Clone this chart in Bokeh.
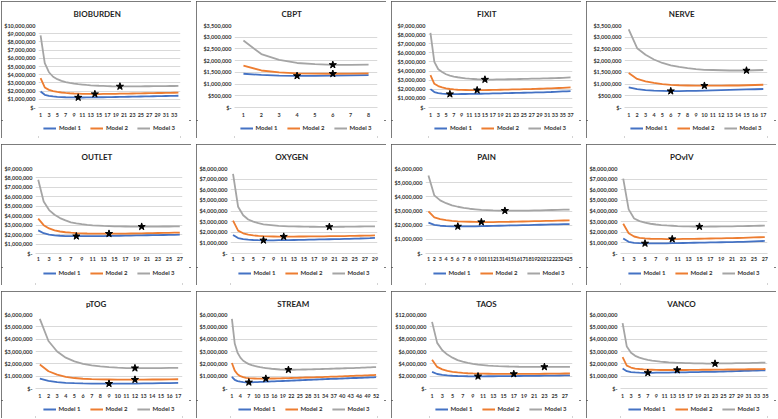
from bokeh.plotting import figure
from bokeh.models import FixedTicker, Legend, LegendItem, Title, Range1d
from bokeh.layouts import column, row
from bokeh.embed import file_html
from bokeh.resources import INLINE

# Total cost per series, in $ millions, by number of units (x = 1..N)
BIOBURDEN_M1 = [1.95, 1.55, 1.42, 1.35, 1.30, 1.27, 1.25, 1.24, 1.23, 1.22, 1.22, 1.23, 1.23, 1.24, 1.25, 1.25, 1.26,
                1.27, 1.28, 1.29, 1.30, 1.31, 1.32, 1.33, 1.34, 1.35, 1.36, 1.37, 1.38, 1.39, 1.40, 1.41, 1.42, 1.43]
BIOBURDEN_M2 = [3.57, 2.45, 2.15, 2.00, 1.90, 1.83, 1.78, 1.74, 1.71, 1.69, 1.67, 1.66, 1.65, 1.64, 1.64, 1.65, 1.65,
                1.66, 1.67, 1.68, 1.69, 1.70, 1.71, 1.72, 1.73, 1.74, 1.75, 1.76, 1.77, 1.77, 1.78, 1.79, 1.80, 1.81]
BIOBURDEN_M3 = [8.80, 5.40, 4.30, 3.75, 3.45, 3.25, 3.10, 3.00, 2.92, 2.85, 2.80, 2.75, 2.71, 2.68, 2.65, 2.63, 2.61,
                2.59, 2.58, 2.57, 2.57, 2.57, 2.57, 2.58, 2.58, 2.59, 2.59, 2.60, 2.60, 2.61, 2.61, 2.62, 2.62, 2.63]
BIOBURDEN_STARS = [10, 14, 20]

CBPT_M1 = [1.44, 1.39, 1.36, 1.35, 1.35, 1.36, 1.37, 1.38]
CBPT_M2 = [1.79, 1.58, 1.50, 1.46, 1.45, 1.44, 1.45, 1.46]
CBPT_M3 = [2.86, 2.28, 2.03, 1.90, 1.85, 1.82, 1.82, 1.83]
CBPT_STARS = [4, 6, 6]

FIXIT_M1 = [2.02, 1.70, 1.58, 1.52, 1.49, 1.47, 1.47, 1.47, 1.48, 1.48, 1.49, 1.49, 1.50, 1.51, 1.52, 1.53, 1.54, 1.55,
            1.56, 1.57, 1.58, 1.59, 1.60, 1.61, 1.62, 1.63, 1.64, 1.65, 1.66, 1.67, 1.69, 1.70, 1.72, 1.74, 1.76, 1.78, 1.80]
FIXIT_M2 = [3.55, 2.60, 2.35, 2.20, 2.10, 2.03, 1.98, 1.95, 1.93, 1.92, 1.91, 1.90, 1.90, 1.90, 1.91, 1.92, 1.93, 1.94,
            1.95, 1.96, 1.97, 1.98, 1.99, 2.00, 2.01, 2.02, 2.03, 2.05, 2.06, 2.07, 2.09, 2.10, 2.12, 2.14, 2.16, 2.18, 2.20]
FIXIT_M3 = [8.20, 5.00, 4.20, 3.90, 3.65, 3.50, 3.40, 3.32, 3.26, 3.20, 3.16, 3.13, 3.10, 3.08, 3.07, 3.07, 3.07, 3.08,
            3.08, 3.09, 3.10, 3.11, 3.12, 3.13, 3.14, 3.15, 3.16, 3.17, 3.18, 3.19, 3.20, 3.21, 3.22, 3.24, 3.26, 3.28, 3.30]
FIXIT_STARS = [6, 13, 15]

NERVE_M1 = [0.86, 0.78, 0.74, 0.72, 0.71, 0.70, 0.70, 0.71, 0.71, 0.72, 0.73, 0.74, 0.75, 0.76, 0.77, 0.78, 0.79]
NERVE_M2 = [1.47, 1.22, 1.12, 1.05, 1.00, 0.97, 0.95, 0.94, 0.93, 0.93, 0.93, 0.93, 0.94, 0.94, 0.95, 0.96, 0.97]
NERVE_M3 = [3.33, 2.53, 2.25, 2.05, 1.90, 1.80, 1.73, 1.68, 1.64, 1.61, 1.60, 1.59, 1.58, 1.58, 1.58, 1.59, 1.60]
NERVE_STARS = [6, 10, 15]

OUTLET_M1 = [2.45, 2.15, 2.00, 1.93, 1.88, 1.85, 1.84, 1.83, 1.83, 1.84, 1.84, 1.85, 1.85, 1.86, 1.87, 1.88, 1.89,
             1.90, 1.91, 1.92, 1.93, 1.94, 1.95, 1.96, 1.97, 1.98, 1.99]
OUTLET_M2 = [3.70, 3.00, 2.65, 2.45, 2.33, 2.25, 2.20, 2.16, 2.14, 2.12, 2.11, 2.10, 2.10, 2.10, 2.10, 2.11, 2.11,
             2.12, 2.13, 2.14, 2.15, 2.16, 2.17, 2.18, 2.19, 2.20, 2.21]
OUTLET_M3 = [7.80, 5.50, 4.60, 4.10, 3.75, 3.50, 3.30, 3.18, 3.10, 3.03, 2.98, 2.95, 2.92, 2.90, 2.88, 2.87, 2.86,
             2.85, 2.85, 2.84, 2.84, 2.85, 2.85, 2.86, 2.86, 2.87, 2.88]
OUTLET_STARS = [8, 14, 20]

OXYGEN_M1 = [1.75, 1.45, 1.35, 1.30, 1.27, 1.25, 1.24, 1.24, 1.24, 1.25, 1.25, 1.26, 1.27, 1.28, 1.29, 1.30, 1.31,
             1.32, 1.33, 1.34, 1.35, 1.36, 1.37, 1.38, 1.40, 1.41, 1.43, 1.45, 1.48]
OXYGEN_M2 = [3.10, 2.15, 1.90, 1.77, 1.70, 1.66, 1.63, 1.61, 1.60, 1.59, 1.59, 1.59, 1.59, 1.60, 1.60, 1.61, 1.61,
             1.62, 1.62, 1.63, 1.63, 1.64, 1.64, 1.65, 1.66, 1.67, 1.68, 1.69, 1.70]
OXYGEN_M3 = [7.50, 4.40, 3.60, 3.20, 3.00, 2.85, 2.75, 2.70, 2.65, 2.60, 2.58, 2.56, 2.55, 2.54, 2.53, 2.52, 2.52,
             2.51, 2.51, 2.51, 2.51, 2.52, 2.52, 2.53, 2.53, 2.54, 2.55, 2.55, 2.56]
OXYGEN_STARS = [7, 11, 20]

PAIN_M1 = [2.18, 2.02, 1.96, 1.93, 1.92, 1.91, 1.91, 1.92, 1.92, 1.93, 1.94, 1.95, 1.96, 1.97, 1.98, 1.99, 2.00,
           2.01, 2.02, 2.03, 2.04, 2.05, 2.06, 2.07, 2.08]
PAIN_M2 = [2.98, 2.55, 2.42, 2.35, 2.30, 2.27, 2.25, 2.24, 2.23, 2.22, 2.22, 2.22, 2.23, 2.23, 2.24, 2.25, 2.26,
           2.27, 2.28, 2.29, 2.30, 2.31, 2.32, 2.33, 2.34]
PAIN_M3 = [5.50, 4.10, 3.75, 3.55, 3.40, 3.30, 3.22, 3.16, 3.12, 3.08, 3.06, 3.04, 3.03, 3.02, 3.02, 3.02, 3.03,
           3.03, 3.04, 3.05, 3.06, 3.07, 3.08, 3.09, 3.10]
PAIN_STARS = [6, 10, 14]

POVIV_M1 = [1.42, 1.10, 1.00, 0.97, 0.95, 0.95, 0.95, 0.96, 0.96, 0.97, 0.98, 0.99, 1.00, 1.01, 1.02, 1.03, 1.04,
            1.05, 1.06, 1.07, 1.08, 1.09, 1.10, 1.12, 1.14, 1.16, 1.18]
POVIV_M2 = [2.80, 1.90, 1.60, 1.48, 1.42, 1.39, 1.38, 1.37, 1.36, 1.36, 1.36, 1.37, 1.37, 1.38, 1.39, 1.40, 1.41,
            1.42, 1.43, 1.44, 1.45, 1.46, 1.47, 1.49, 1.51, 1.53, 1.55]
POVIV_M3 = [7.05, 4.15, 3.30, 3.05, 2.90, 2.80, 2.73, 2.68, 2.64, 2.61, 2.58, 2.56, 2.55, 2.54, 2.53, 2.53, 2.54,
            2.54, 2.55, 2.55, 2.56, 2.57, 2.58, 2.59, 2.60, 2.61, 2.62]
POVIV_STARS = [5, 10, 15]

PTOG_M1 = [0.80, 0.62, 0.52, 0.46, 0.43, 0.41, 0.40, 0.39, 0.39, 0.39, 0.40, 0.40, 0.41, 0.42, 0.43, 0.44, 0.45]
PTOG_M2 = [1.95, 1.40, 1.12, 0.95, 0.85, 0.79, 0.76, 0.74, 0.73, 0.72, 0.72, 0.72, 0.72, 0.73, 0.73, 0.74, 0.75]
PTOG_M3 = [5.65, 3.85, 3.00, 2.50, 2.20, 2.00, 1.88, 1.80, 1.73, 1.69, 1.66, 1.65, 1.65, 1.65, 1.66, 1.67, 1.68]
PTOG_STARS = [9, 12, 12]

STREAM_M1 = [0.95, 0.70, 0.60, 0.55, 0.52, 0.50, 0.50, 0.50, 0.51, 0.52, 0.53, 0.54, 0.55, 0.56, 0.57, 0.58, 0.59,
             0.60, 0.61, 0.62, 0.63, 0.64, 0.65, 0.66, 0.67, 0.68, 0.69, 0.70, 0.71, 0.72, 0.73, 0.74, 0.75, 0.76,
             0.77, 0.78, 0.79, 0.79, 0.80, 0.81, 0.82, 0.83, 0.84, 0.85, 0.85, 0.86, 0.87, 0.88, 0.89, 0.90, 0.91, 0.92]
STREAM_M2 = [2.07, 1.45, 1.15, 1.00, 0.92, 0.87, 0.84, 0.82, 0.81, 0.80, 0.80, 0.80, 0.80, 0.80, 0.81, 0.81, 0.82,
             0.82, 0.83, 0.84, 0.84, 0.85, 0.86, 0.86, 0.87, 0.88, 0.89, 0.89, 0.90, 0.91, 0.92, 0.93, 0.93, 0.94,
             0.95, 0.96, 0.97, 0.97, 0.98, 0.99, 1.00, 1.01, 1.02, 1.03, 1.04, 1.04, 1.05, 1.06, 1.07, 1.08, 1.09, 1.10]
STREAM_M3 = [5.65, 3.65, 2.90, 2.50, 2.25, 2.10, 1.98, 1.90, 1.83, 1.78, 1.73, 1.69, 1.66, 1.63, 1.60, 1.58, 1.56,
             1.54, 1.53, 1.52, 1.52, 1.52, 1.52, 1.53, 1.53, 1.54, 1.54, 1.55, 1.55, 1.56, 1.57, 1.57, 1.58, 1.59,
             1.59, 1.60, 1.61, 1.62, 1.62, 1.63, 1.64, 1.65, 1.66, 1.66, 1.67, 1.68, 1.69, 1.70, 1.71, 1.72, 1.73, 1.74]
STREAM_STARS = [7, 13, 21]

TAOS_M1 = [2.70, 2.35, 2.20, 2.12, 2.07, 2.03, 2.01, 1.99, 1.98, 1.98, 1.98, 1.99, 1.99, 2.00, 2.00, 2.01, 2.02,
           2.03, 2.04, 2.05, 2.06, 2.07, 2.08, 2.09, 2.10, 2.11, 2.12, 2.13]
TAOS_M2 = [4.65, 3.50, 3.10, 2.85, 2.70, 2.60, 2.52, 2.47, 2.44, 2.42, 2.40, 2.39, 2.38, 2.37, 2.36, 2.36, 2.36,
           2.36, 2.37, 2.37, 2.38, 2.38, 2.39, 2.40, 2.41, 2.42, 2.43, 2.44]
TAOS_M3 = [10.80, 7.40, 6.20, 5.50, 5.00, 4.60, 4.35, 4.15, 4.00, 3.88, 3.80, 3.72, 3.67, 3.63, 3.60, 3.57, 3.55,
           3.53, 3.52, 3.51, 3.50, 3.50, 3.50, 3.50, 3.50, 3.51, 3.51, 3.52]
TAOS_STARS = [10, 17, 23]

VANCO_M1 = [1.62, 1.40, 1.33, 1.30, 1.28, 1.27, 1.27, 1.27, 1.28, 1.28, 1.29, 1.29, 1.30, 1.30, 1.31, 1.31, 1.32,
            1.32, 1.33, 1.34, 1.34, 1.35, 1.36, 1.37, 1.38, 1.39, 1.40, 1.41, 1.42, 1.43, 1.44, 1.45, 1.46, 1.47, 1.48]
VANCO_M2 = [2.55, 1.85, 1.70, 1.62, 1.58, 1.55, 1.53, 1.52, 1.51, 1.50, 1.50, 1.50, 1.50, 1.50, 1.50, 1.50, 1.51,
            1.51, 1.51, 1.52, 1.52, 1.52, 1.53, 1.53, 1.53, 1.54, 1.54, 1.54, 1.55, 1.55, 1.56, 1.56, 1.57, 1.57, 1.58]
VANCO_M3 = [5.30, 3.40, 2.90, 2.65, 2.50, 2.40, 2.32, 2.26, 2.22, 2.18, 2.15, 2.12, 2.10, 2.08, 2.07, 2.06, 2.05,
            2.04, 2.03, 2.03, 2.02, 2.02, 2.02, 2.03, 2.03, 2.04, 2.04, 2.05, 2.05, 2.06, 2.06, 2.07, 2.08, 2.09, 2.10]
VANCO_STARS = [7, 14, 23]

# y-axis maximum and tick step ($ millions), x-axis label step
Y_MAX = {"BIOBURDEN": 10, "CBPT": 3.5, "FIXIT": 9, "NERVE": 3.5, "OUTLET": 9, "OXYGEN": 8,
         "PAIN": 6, "POvIV": 8, "pTOG": 6, "STREAM": 6, "TAOS": 12, "VANCO": 6}
Y_STEP = {"BIOBURDEN": 1, "CBPT": 0.5, "FIXIT": 1, "NERVE": 0.5, "OUTLET": 1, "OXYGEN": 1,
          "PAIN": 1, "POvIV": 1, "pTOG": 1, "STREAM": 1, "TAOS": 2, "VANCO": 1}
X_STEP = {"BIOBURDEN": 2, "CBPT": 1, "FIXIT": 2, "NERVE": 1, "OUTLET": 2, "OXYGEN": 2,
          "PAIN": 1, "POvIV": 2, "pTOG": 1, "STREAM": 3, "TAOS": 2, "VANCO": 2}

SERIES_NAMES = ["Model 1", "Model 2", "Model 3"]
COLORS = ["#4472C4", "#ED7D31", "#A5A5A5"]
FONT = "Lato"
TEXT = "#333333"
TITLE_SIZE = 8

PANELS = [
    ("BIOBURDEN", BIOBURDEN_M1, BIOBURDEN_M2, BIOBURDEN_M3, BIOBURDEN_STARS),
    ("CBPT", CBPT_M1, CBPT_M2, CBPT_M3, CBPT_STARS),
    ("FIXIT", FIXIT_M1, FIXIT_M2, FIXIT_M3, FIXIT_STARS),
    ("NERVE", NERVE_M1, NERVE_M2, NERVE_M3, NERVE_STARS),
    ("OUTLET", OUTLET_M1, OUTLET_M2, OUTLET_M3, OUTLET_STARS),
    ("OXYGEN", OXYGEN_M1, OXYGEN_M2, OXYGEN_M3, OXYGEN_STARS),
    ("PAIN", PAIN_M1, PAIN_M2, PAIN_M3, PAIN_STARS),
    ("POvIV", POVIV_M1, POVIV_M2, POVIV_M3, POVIV_STARS),
    ("pTOG", PTOG_M1, PTOG_M2, PTOG_M3, PTOG_STARS),
    ("STREAM", STREAM_M1, STREAM_M2, STREAM_M3, STREAM_STARS),
    ("TAOS", TAOS_M1, TAOS_M2, TAOS_M3, TAOS_STARS),
    ("VANCO", VANCO_M1, VANCO_M2, VANCO_M3, VANCO_STARS),
]

# per row of panels: chart canvas height, frame borders, title standoff,
# x label standoff, and the gap above the legend inside its strip
LEG_H = 18
ROWS = [
    dict(height=119, top=22, bottom=13, title_standoff=12, xstand=5, legend_gap=4),
    dict(height=123, top=24, bottom=14, title_standoff=12, xstand=3, legend_gap=2),
    dict(height=109, top=23, bottom=11, title_standoff=10, xstand=5, legend_gap=5),
]
LEFT = [37, 38, 37, 38, 34, 34, 34, 34, 34, 34, 38, 34]
RIGHT = [11, 9, 9, 9, 9, 9, 9, 9, 9, 9, 9, 9]
PANEL_W = 190

# approximate advance widths (em) of the bold title face, for centring titles on the panel
GLYPH_EM = {"A": .68, "B": .64, "C": .65, "D": .73, "E": .55, "F": .53, "G": .71, "I": .29, "L": .50,
            "N": .76, "O": .77, "P": .60, "R": .63, "S": .54, "T": .59, "U": .72, "V": .68, "X": .66,
            "Y": .63, "p": .58, "v": .53}


def money(v):
    return "$-" if v == 0 else "${:,.0f}".format(v * 1e6)


def make_chart(i, name, m1, m2, m3, stars):
    cfg = ROWS[i // 4]
    left, right = LEFT[i], RIGHT[i]
    n = len(m1)
    xs = list(range(1, n + 1))
    ymax, ystep = Y_MAX[name], Y_STEP[name]
    yticks = [k * ystep for k in range(int(round(ymax / ystep)) + 1)]

    text_w = sum(GLYPH_EM.get(c, .6) for c in name) * TITLE_SIZE
    title = Title(text=name, align="left", offset=PANEL_W / 2 - left - text_w / 2,
                  vertical_align="middle", standoff=cfg["title_standoff"], text_font=FONT,
                  text_font_size="%spx" % TITLE_SIZE, text_font_style="bold", text_color="#1f1f1f")

    p = figure(width=PANEL_W, height=cfg["height"], output_backend="svg", toolbar_location=None,
               title=title, x_range=Range1d(0.5, n + 0.5), y_range=Range1d(0, ymax),
               min_border_left=left, min_border_right=right,
               min_border_top=cfg["top"], min_border_bottom=cfg["bottom"])
    p.outline_line_color = None
    p.background_fill_color = "white"
    p.border_fill_color = "white"

    p.xgrid.grid_line_color = None
    p.ygrid.grid_line_color = "#d9d9d9"
    p.ygrid.grid_line_width = 1

    p.xaxis.ticker = FixedTicker(ticks=xs[::X_STEP[name]])
    p.xaxis.axis_line_color = "#d9d9d9"
    p.xaxis.major_tick_line_color = None
    p.xaxis.minor_tick_line_color = None
    p.xaxis.major_tick_out = 0
    p.xaxis.major_tick_in = 0
    p.xaxis.major_label_standoff = cfg["xstand"]
    p.xaxis.major_label_text_font = FONT
    p.xaxis.major_label_text_font_size = "5.4px"
    p.xaxis.major_label_text_font_style = "bold"
    p.xaxis.major_label_text_color = TEXT

    p.yaxis.ticker = FixedTicker(ticks=yticks)
    p.yaxis.major_label_overrides = {t: money(t) for t in yticks}
    p.yaxis.axis_line_color = None
    p.yaxis.major_tick_line_color = None
    p.yaxis.minor_tick_line_color = None
    p.yaxis.major_tick_out = 0
    p.yaxis.major_tick_in = 0
    p.yaxis.major_label_standoff = 3
    p.yaxis.major_label_text_font = FONT
    p.yaxis.major_label_text_font_size = "5.5px"
    p.yaxis.major_label_text_font_style = "bold"
    p.yaxis.major_label_text_color = TEXT

    for ys, color in zip((m1, m2, m3), COLORS):
        p.line(xs, ys, line_color=color, line_width=1.8)

    sx = list(stars)
    sy = [series[k - 1] for series, k in zip((m1, m2, m3), stars)]
    p.scatter(sx, sy, marker="star", size=7.5, fill_color="black", line_color="black")
    return p


def make_legend_strip(i):
    """A borderless strip under each chart that holds the centred series key."""
    cfg = ROWS[i // 4]
    q = figure(width=PANEL_W, height=LEG_H, output_backend="svg", toolbar_location=None,
               x_range=Range1d(0, 1), y_range=Range1d(0, 1),
               x_axis_location=None, y_axis_location=None,
               min_border=0, min_border_left=0, min_border_right=0, min_border_top=0, min_border_bottom=0)
    q.outline_line_color = None
    q.grid.visible = False
    nan = float("nan")
    keys = [q.line([nan], [nan], line_color=c, line_width=2) for c in COLORS]
    legend = Legend(items=[LegendItem(label=lab, renderers=[r]) for lab, r in zip(SERIES_NAMES, keys)],
                    orientation="horizontal", location="top", margin=cfg["legend_gap"],
                    glyph_width=13, glyph_height=6, label_height=6, label_standoff=3, spacing=9,
                    padding=0, border_line_color=None, background_fill_alpha=0,
                    label_text_font=FONT, label_text_font_size="6px", label_text_font_style="bold",
                    label_text_color=TEXT)
    q.add_layout(legend)
    return q


panels = []
for i, panel in enumerate(PANELS):
    box = column(make_chart(i, *panel), make_legend_strip(i), spacing=0)
    box.styles = {"outline": "2px solid #505050", "outline-offset": "-2px"}
    panels.append(box)

page = column(row(*panels[0:4], spacing=5), row(*panels[4:8], spacing=5), row(*panels[8:12], spacing=5),
              spacing=6, margin=(1, 0, 0, 1))

open("out.html", "w").write(file_html(page, INLINE))
